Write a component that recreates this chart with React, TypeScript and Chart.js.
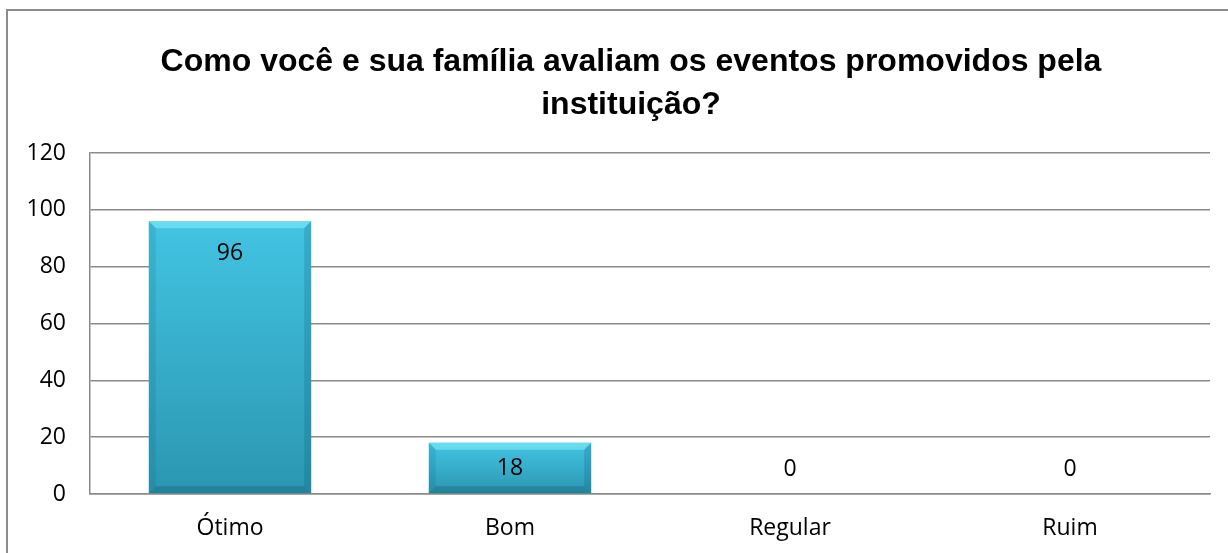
import React, { useEffect, useRef } from "react";
import { Chart, registerables } from "chart.js";

Chart.register(...registerables);

const categories = ["Ótimo", "Bom", "Regular", "Ruim"];
const values = [96, 18, 0, 0];
const titleLines = ["Como você e sua família avaliam os eventos promovidos pela", "instituição?"];
const yMin = 0;
const yMax = 120;
const yStep = 20;

const W = 1228;
const H = 553;
const GRID = "#8a8a8a";
const FONT = '"Open Sans", "Liberation Sans", sans-serif';
const FSIZE = 23;

const framePlugin = {
  id: "frame",
  beforeDraw(chart: any) {
    const ctx = chart.ctx;
    ctx.save();
    ctx.fillStyle = "#ffffff";
    ctx.fillRect(0, 0, W, H);
    ctx.strokeStyle = "#8c8c8c";
    ctx.lineWidth = 2;
    ctx.beginPath();
    ctx.moveTo(7, H);
    ctx.lineTo(7, 10);
    ctx.lineTo(W, 10);
    ctx.stroke();
    ctx.fillStyle = "#000";
    ctx.font = 'bold 32px "Liberation Sans", Arial, sans-serif';
    ctx.textAlign = "center";
    ctx.textBaseline = "alphabetic";
    ctx.fillText(titleLines[0], 631, 71);
    ctx.fillText(titleLines[1], 631, 114);
    ctx.restore();
  },
};

const bevelPlugin = {
  id: "bevel",
  afterDatasetsDraw(chart: any) {
    const ctx = chart.ctx;
    const meta = chart.getDatasetMeta(0);
    ctx.save();
    meta.data.forEach((el: any, i: number) => {
      const L = el.x - el.width / 2;
      const R = el.x + el.width / 2;
      const T = el.y;
      const B = el.base;
      const h = B - T;
      if (h > 2) {
        const b = Math.min(7, h / 3);
        ctx.fillStyle = "rgba(120,230,245,0.7)";
        ctx.beginPath();
        ctx.moveTo(L, T);
        ctx.lineTo(R, T);
        ctx.lineTo(R - b, T + b);
        ctx.lineTo(L + b, T + b);
        ctx.closePath();
        ctx.fill();
        ctx.fillStyle = "rgba(0,70,95,0.12)";
        ctx.beginPath();
        ctx.moveTo(L, T);
        ctx.lineTo(L + b, T + b);
        ctx.lineTo(L + b, B - b);
        ctx.lineTo(L, B);
        ctx.closePath();
        ctx.fill();
        ctx.fillStyle = "rgba(0,70,95,0.18)";
        ctx.beginPath();
        ctx.moveTo(R, T);
        ctx.lineTo(R - b, T + b);
        ctx.lineTo(R - b, B - b);
        ctx.lineTo(R, B);
        ctx.closePath();
        ctx.fill();
        ctx.fillStyle = "rgba(0,50,70,0.2)";
        ctx.beginPath();
        ctx.moveTo(L, B);
        ctx.lineTo(L + b, B - b);
        ctx.lineTo(R - b, B - b);
        ctx.lineTo(R, B);
        ctx.closePath();
        ctx.fill();
      }
      const v = values[i];
      ctx.fillStyle = "#000";
      ctx.font = `${FSIZE}px ${FONT}`;
      ctx.textAlign = "center";
      ctx.textBaseline = "middle";
      const y = Math.min(T + 32, B - 25);
      ctx.fillText(String(v), el.x, y);
    });
    ctx.restore();
  },
};

export default function App() {
  const ref = useRef<HTMLCanvasElement>(null);
  useEffect(() => {
    if (!ref.current) return;
    const chart = new Chart(ref.current, {
      type: "bar",
      data: {
        labels: categories,
        datasets: [
          {
            data: values,
            barPercentage: 0.58,
            categoryPercentage: 1,
            backgroundColor: (c: any) => {
              const ch = c.chart;
              const ys = ch.scales && ch.scales.y;
              if (!ys || c.parsed == null) return "#38b4d4";
              const top = ys.getPixelForValue(c.parsed.y);
              const bot = ys.getPixelForValue(0);
              if (!isFinite(top) || !isFinite(bot) || bot - top < 1) return "#38b4d4";
              const g = ch.ctx.createLinearGradient(0, top, 0, bot);
              g.addColorStop(0, "#42c4e2");
              g.addColorStop(1, "#2b96b1");
              return g;
            },
            borderWidth: 0,
          },
        ],
      },
      options: {
        responsive: false,
        animation: false,
        layout: { padding: { top: 153, right: 18, left: 0, bottom: 0 } },
        plugins: {
          legend: { display: false },
          title: { display: false },
          tooltip: { enabled: false },
        },
        scales: {
          x: {
            grid: { display: false, drawTicks: false },
            border: { display: true, color: GRID, width: 1.5 },
            ticks: { font: { family: FONT, size: FSIZE }, color: "#000", padding: 21 },
            afterFit: (s: any) => {
              s.height = 59;
            },
          },
          y: {
            min: yMin,
            max: yMax,
            grid: { color: GRID, lineWidth: 1.5, drawTicks: false },
            border: { display: true, color: GRID, width: 1.5 },
            ticks: { stepSize: yStep, font: { family: FONT, size: FSIZE }, color: "#000", padding: 24 },
            afterFit: (s: any) => {
              s.width = 90;
            },
          },
        },
      },
      plugins: [framePlugin, bevelPlugin],
    });
    return () => chart.destroy();
  }, []);
  return (
    <canvas
      ref={ref}
      width={W}
      height={H}
      style={{ position: "absolute", left: 0, top: 0, display: "block" }}
    />
  );
}
